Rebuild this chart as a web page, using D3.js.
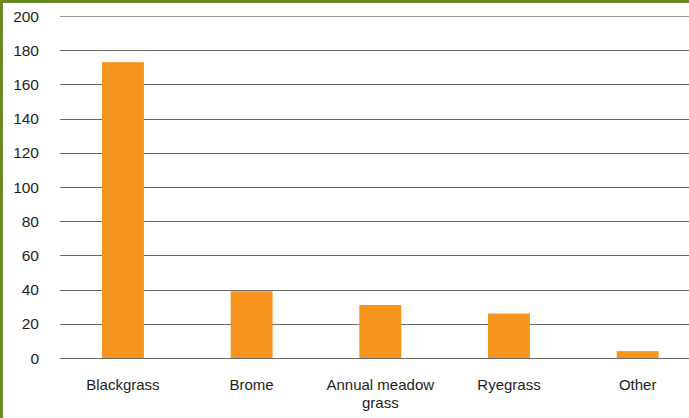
<!DOCTYPE html>
<html>
<head>
<meta charset="utf-8">
<script src="https://cdn.jsdelivr.net/npm/d3@7"></script>
<style>
  body { margin: 0; background: #fff; }
  svg { display: block; }
</style>
</head>
<body>
<svg id="chart" width="689" height="418"></svg>
<script>
// weed species and counts
let categories = ["Blackgrass", "Brome", "Annual meadow grass", "Ryegrass", "Other"];
let values = [173, 39, 31, 26, 4];
let yTicks = [0, 20, 40, 60, 80, 100, 120, 140, 160, 180, 200];

const svg = d3.select("#chart");
const width = 689, height = 418;

// plot area (right side runs past the picture edge)
let x = d3.scaleBand()
    .domain(categories)
    .range([58.6, 702])
    .paddingInner(0.674)
    .paddingOuter(0.337);

let y = d3.scaleLinear()
    .domain([0, 200])
    .range([358, 16]);

// gridlines
svg.append("g")
    .selectAll("line")
    .data(yTicks)
    .join("line")
    .attr("x1", 60)
    .attr("x2", width)
    .attr("y1", d => Math.round(y(d)) + 0.5)
    .attr("y2", d => Math.round(y(d)) + 0.5)
    .attr("stroke", d => d === 200 ? "#999" : "#6a6a6a")
    .attr("stroke-width", 1);

// y tick labels
svg.append("g")
    .selectAll("text")
    .data(yTicks)
    .join("text")
    .attr("x", 39)
    .attr("y", d => y(d))
    .attr("dy", "0.36em")
    .attr("text-anchor", "end")
    .attr("font-family", "Liberation Sans, Arial, sans-serif")
    .attr("font-size", "15.5px")
    .attr("fill", "#1e1e1e")
    .text(d => d);

// bars
svg.append("g")
    .selectAll("rect")
    .data(values)
    .join("rect")
    .attr("x", (d, i) => x(categories[i]))
    .attr("width", x.bandwidth())
    .attr("y", d => y(d))
    .attr("height", d => y(0) - y(d))
    .attr("fill", "#f7941e");

// x labels, wrapped by hand where the original wraps
const labelLines = {"Annual meadow grass": ["Annual meadow", "grass"]};
const xl = svg.append("g")
    .selectAll("text")
    .data(categories)
    .join("text")
    .attr("x", d => x(d) + x.bandwidth() / 2)
    .attr("y", 390)
    .attr("text-anchor", "middle")
    .attr("font-family", "Liberation Sans, Arial, sans-serif")
    .attr("font-size", "15px")
    .attr("fill", "#1e1e1e");

xl.each(function (d) {
    let lines = labelLines[d] || [d];
    d3.select(this).selectAll("tspan")
        .data(lines)
        .join("tspan")
        .attr("x", x(d) + x.bandwidth() / 2)
        .attr("dy", (l, i) => i === 0 ? 0 : 18)
        .text(l => l);
});

// green frame on top and left
svg.append("rect").attr("x", 0).attr("y", 0).attr("width", width).attr("height", 3).attr("fill", "#6b8a26");
svg.append("rect").attr("x", 0).attr("y", 0).attr("width", 3).attr("height", height).attr("fill", "#6b8a26");
</script>
</body>
</html>
